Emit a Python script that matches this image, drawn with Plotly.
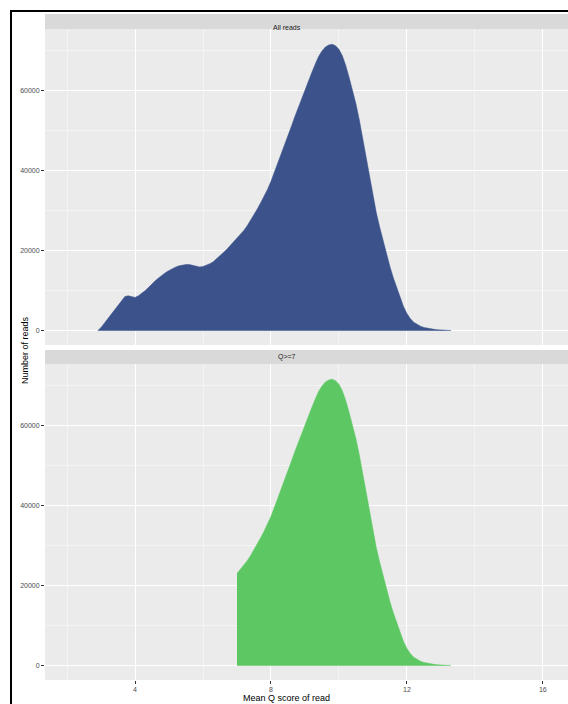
import plotly.graph_objects as go
from plotly.subplots import make_subplots

# Mean Q score bins (bin centres) and read counts for all reads
q_all = [2.9, 3.0, 3.1, 3.2, 3.3, 3.4, 3.5, 3.6, 3.7, 3.8, 3.9,
         4.0, 4.1, 4.2, 4.3, 4.4, 4.5, 4.6, 4.7, 4.8, 4.9,
         5.0, 5.1, 5.2, 5.3, 5.4, 5.5, 5.6, 5.7, 5.8, 5.9,
         6.0, 6.1, 6.2, 6.3, 6.4, 6.5, 6.6, 6.7, 6.8, 6.9,
         7.0, 7.1, 7.2, 7.3, 7.4, 7.5, 7.6, 7.7, 7.8, 7.9,
         8.0, 8.1, 8.2, 8.3, 8.4, 8.5, 8.6, 8.7, 8.8, 8.9,
         9.0, 9.1, 9.2, 9.3, 9.4, 9.5, 9.6, 9.7, 9.8, 9.9,
         10.0, 10.1, 10.2, 10.3, 10.4, 10.5, 10.6, 10.7, 10.8, 10.9,
         11.0, 11.1, 11.2, 11.3, 11.4, 11.5, 11.6, 11.7, 11.8, 11.9,
         12.0, 12.1, 12.2, 12.3, 12.4, 12.5, 12.6, 12.7, 12.8, 12.9,
         13.0, 13.1, 13.2, 13.3]
n_all = [0, 800, 1900, 3000, 4100, 5200, 6400, 7500, 8500, 8700, 8500,
         8300, 8700, 9300, 10000, 10800, 11700, 12500, 13200, 13900, 14500,
         15000, 15500, 15900, 16200, 16400, 16500, 16500, 16300, 16000, 15900,
         16000, 16300, 16700, 17200, 17900, 18700, 19500, 20300, 21200, 22100,
         23000, 24000, 25000, 26200, 27500, 28900, 30400, 32000, 33600, 35300,
         37300, 39500, 41700, 43900, 46100, 48500, 51000, 53400, 55700, 58000,
         60200, 62300, 64400, 66500, 68400, 69800, 70800, 71300, 71500, 71100,
         70200, 68600, 66200, 63200, 60000, 56600, 52600, 47800, 42800, 38000,
         33400, 29400, 25800, 22300, 19000, 16000, 13200, 10600, 8200, 6000,
         4300, 3000, 2100, 1500, 1100, 800, 600, 450, 320, 220,
         150, 90, 50, 20]

# Reads passing the Q>=7 filter
q_pass = [q for q in q_all if q >= 7.0]
n_pass = [n for q, n in zip(q_all, n_all) if q >= 7.0]

x_ticks = [4, 8, 12, 16]
y_ticks = [0, 20000, 40000, 60000]
panel_titles = ["All reads", "Q>=7"]

NAVY = "#3B528B"
GREEN = "#5DC863"
FONT = "Liberation Sans, Arial, sans-serif"

fig = make_subplots(rows=2, cols=1, shared_xaxes=True, vertical_spacing=0.0292)

fig.add_trace(go.Scatter(x=q_all, y=n_all, mode="lines", fill="tozeroy",
                         line=dict(color=NAVY, width=0.5), fillcolor=NAVY,
                         hoverinfo="x+y", showlegend=False), row=1, col=1)
fig.add_trace(go.Scatter(x=q_pass, y=n_pass, mode="lines", fill="tozeroy",
                         line=dict(color=GREEN, width=0.5), fillcolor=GREEN,
                         hoverinfo="x+y", showlegend=False), row=2, col=1)

axis_common = dict(showline=False, zeroline=False, gridcolor="#FFFFFF", gridwidth=1,
                   ticks="outside", ticklen=3, tickcolor="#333333", tickwidth=1,
                   tickfont=dict(family=FONT, size=7, color="#4D4D4D"))

for r in (1, 2):
    fig.update_xaxes(range=[1.35, 16.74], tickvals=x_ticks,
                     minor=dict(dtick=2, tick0=0, showgrid=True, gridcolor="#F4F4F4", gridwidth=0.5, ticks=""),
                     **axis_common, row=r, col=1)
    fig.update_yaxes(range=[-3585, 75285], tickvals=y_ticks, tickformat="d",
                     minor=dict(dtick=10000, tick0=0, showgrid=True, gridcolor="#F4F4F4", gridwidth=0.5, ticks=""),
                     **axis_common, row=r, col=1)

fig.update_xaxes(showticklabels=False, ticks="", row=1, col=1)

# Facet strips
strips = [(1.0, 1.023), (0.4854, 0.5069)]
for (y0, y1), title in zip(strips, panel_titles):
    fig.add_shape(type="rect", xref="paper", yref="paper", x0=0, x1=1, y0=y0, y1=y1,
                  fillcolor="#D9D9D9", line=dict(width=0), layer="below")
    fig.add_annotation(xref="paper", yref="paper", x=0.4627, y=(y0 + y1) / 2,
                       text=title, showarrow=False,
                       font=dict(family=FONT, size=7, color="#1A1A1A"))

# Axis titles
fig.add_annotation(xref="paper", yref="paper", x=-0.0516, y=0.5069, text="Number of reads",
                   textangle=-90, showarrow=False, font=dict(family=FONT, size=9, color="#000000"))
fig.add_annotation(xref="paper", yref="paper", x=0.4627, y=-0.0276, yanchor="middle",
                   text="Mean Q score of read", showarrow=False,
                   font=dict(family=FONT, size=9, color="#000000"))

# Frame around the figure (only its top and left edges fall inside the page)
fig.add_shape(type="rect", xref="paper", yref="paper", x0=-0.0650, x1=1.3, y0=-0.3, y1=1.0276,
              line=dict(color="#000000", width=2), fillcolor="rgba(0,0,0,0)")

fig.update_layout(width=568, height=704, margin=dict(l=45, r=0, t=29, b=24),
                  paper_bgcolor="#FFFFFF", plot_bgcolor="#EBEBEB",
                  font=dict(family=FONT))

fig.write_html("out.html")
